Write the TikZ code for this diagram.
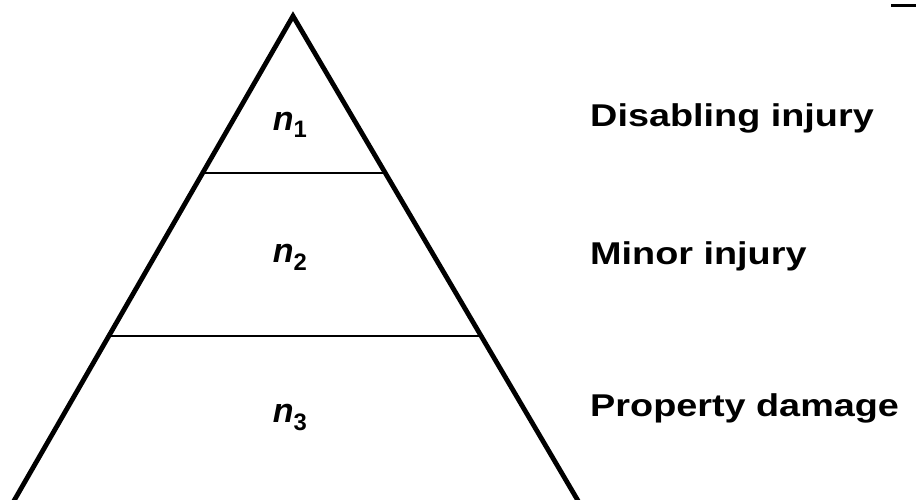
\documentclass[tikz,border=0pt]{standalone}
\usepackage{fontspec}
\setmainfont{Liberation Sans}
\usetikzlibrary{calc}
\tikzset{
  side/.style={line width=4.8pt, line cap=round, line join=miter},
  level/.style={line width=2pt},
  lbl/.style={anchor=base west, inner sep=0pt, font=\fontsize{31.5}{36}\selectfont\bfseries, xscale=1.2},
  nlbl/.style={anchor=base, inner sep=0pt, font=\fontsize{34}{40}\selectfont\bfseries\itshape},
}
\begin{document}
\begin{tikzpicture}[x=1pt,y=-1pt]
\useasboundingbox (0,0) rectangle (916,499);
\coordinate (apex) at (293,16);
\coordinate (bl) at (15,499);
\coordinate (br) at (577,499);
\coordinate (l1) at ($(apex)!0.3244!(bl)$);
\coordinate (r1) at ($(apex)!0.3244!(br)$);
\coordinate (l2) at ($(apex)!0.6632!(bl)$);
\coordinate (r2) at ($(apex)!0.6632!(br)$);
\begin{scope}
\clip (0,0) rectangle (916,499);
\draw[side] ($(apex)!1.02!(bl)$) -- (apex) -- ($(apex)!1.02!(br)$);
\end{scope}
\draw[level] (l1) -- (r1);
\draw[level] (l2) -- (r2);
\node[nlbl] (n1) at (290,130) {n\textsubscript{\upshape 1}};
\node[nlbl] (n2) at (290,262) {n\textsubscript{\upshape 2}};
\node[nlbl] (n3) at (290,422) {n\textsubscript{\upshape 3}};
\node[lbl] (t1) at (590,126) {Disabling injury};
\node[lbl] (t2) at (590,264) {Minor injury};
\node[lbl] (t3) at (590,416) {Property damage};
\fill (891,4) rectangle (916,7);
\end{tikzpicture}
\end{document}
